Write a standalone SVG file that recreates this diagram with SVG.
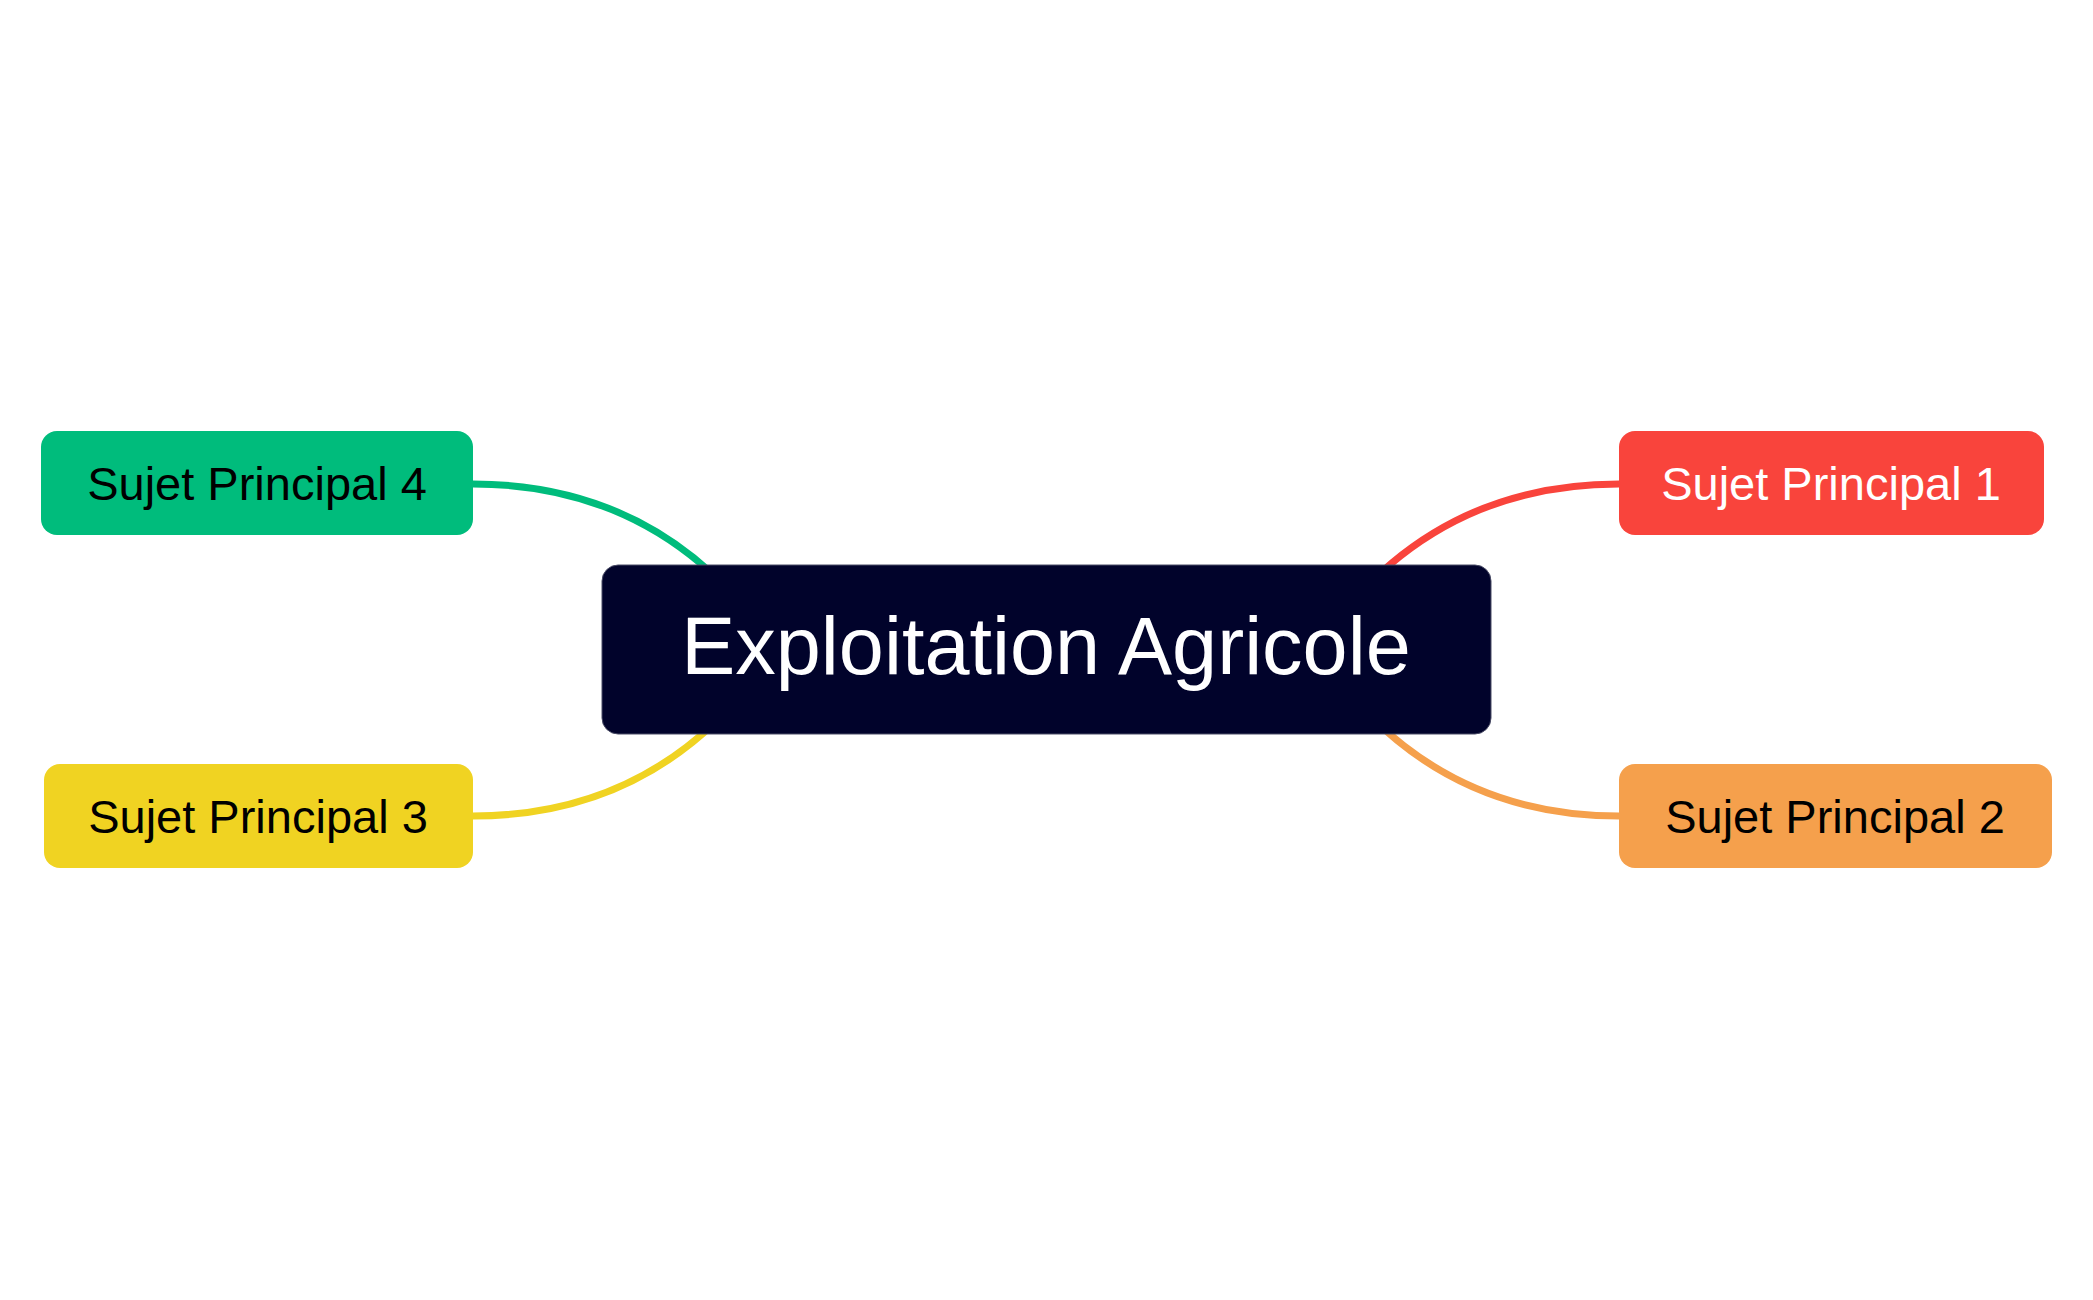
<svg xmlns="http://www.w3.org/2000/svg" width="2093" height="1300" viewBox="0 0 2093 1300">
<style>
.conn{fill:none;stroke-width:7;stroke-linecap:round}
.sub{font-family:"Liberation Sans",Arial,sans-serif;font-size:47px;text-anchor:middle}
.title{font-family:"Liberation Sans",Arial,sans-serif;font-size:81px;text-anchor:middle;fill:#ffffff}
</style>
<rect width="2093" height="1300" fill="#ffffff"/>
<g id="connectors">
<path class="conn" stroke="#00BC7C" d="M473,484 Q660,484 770,640"/>
<path class="conn" stroke="#F0D322" d="M473,816 Q660,816 770,658"/>
<path class="conn" stroke="#F9443C" d="M1619,484 Q1432,484 1322,640"/>
<path class="conn" stroke="#F5A04C" d="M1619,816 Q1432,816 1322,658"/>
</g>
<g id="center">
<rect x="602" y="565" width="889" height="169" rx="16" fill="#01032B" stroke="#4a4c66" stroke-width="1"/>
<text class="title" x="1046" y="674">Exploitation Agricole</text>
</g>
<g id="sujet4">
<rect x="41" y="431" width="432" height="104" rx="16" fill="#00BC7C"/>
<text class="sub" x="257" y="500" fill="#000000">Sujet Principal 4</text>
</g>
<g id="sujet3">
<rect x="44" y="764" width="429" height="104" rx="16" fill="#F0D322"/>
<text class="sub" x="258" y="833" fill="#000000">Sujet Principal 3</text>
</g>
<g id="sujet1">
<rect x="1619" y="431" width="425" height="104" rx="16" fill="#F9443C"/>
<text class="sub" x="1831" y="500" fill="#ffffff">Sujet Principal 1</text>
</g>
<g id="sujet2">
<rect x="1619" y="764" width="433" height="104" rx="16" fill="#F5A04C"/>
<text class="sub" x="1835" y="833" fill="#000000">Sujet Principal 2</text>
</g>
</svg>
